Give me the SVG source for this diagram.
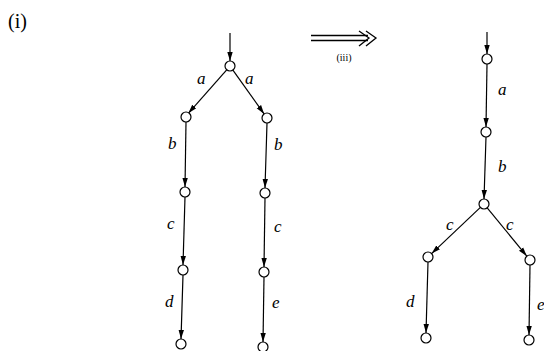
<svg xmlns="http://www.w3.org/2000/svg" width="544" height="351" viewBox="0 0 544 351">
<defs>
<marker id="ah" viewBox="0 0 10 10" refX="10" refY="5" markerWidth="9" markerHeight="9" markerUnits="userSpaceOnUse" orient="auto">
<path d="M0,2 L10,5 L0,8 Z" fill="#000"/>
</marker>
<style>
.e{stroke:#000;stroke-width:1.2;fill:none;marker-end:url(#ah)}
.n{fill:#fff;stroke:#000;stroke-width:1.2}
.l{font-family:"Liberation Serif",serif;font-style:italic;font-size:17px;fill:#000}
</style>
</defs>
<rect width="544" height="351" fill="#fff"/>
<text x="8" y="28" font-family="Liberation Serif,serif" font-size="20" fill="#000">(i)</text>
<g id="connectors">
<line class="e" x1="230" y1="33" x2="230" y2="61"/>
<line class="e" x1="226.7" y1="69.8" x2="188.3" y2="113.3"/>
<line class="e" x1="232.9" y1="70.1" x2="264.1" y2="113.9"/>
<line class="e" x1="186" y1="122" x2="185" y2="187"/>
<line class="e" x1="185" y1="197" x2="183" y2="265"/>
<line class="e" x1="183" y1="275" x2="181" y2="339"/>
<line class="e" x1="267" y1="123" x2="265" y2="188"/>
<line class="e" x1="265" y1="198" x2="264" y2="267"/>
<line class="e" x1="264" y1="277" x2="263" y2="342"/>
<line class="e" x1="487" y1="32" x2="487" y2="54"/>
<line class="e" x1="487" y1="64" x2="486" y2="127"/>
<line class="e" x1="486" y1="137" x2="484" y2="199"/>
<line class="e" x1="480.4" y1="207.4" x2="431.6" y2="253.6"/>
<line class="e" x1="487.2" y1="207.9" x2="526.8" y2="256.1"/>
<line class="e" x1="428" y1="262" x2="426" y2="333"/>
<line class="e" x1="530" y1="265" x2="529" y2="335"/>
</g>
<g id="rule-arrow" stroke="#000" stroke-width="1.3" fill="none">
<line x1="311" y1="35.5" x2="368" y2="35.5"/>
<line x1="311" y1="40.5" x2="368" y2="40.5"/>
<path d="M359,31 L369,38 L359,46"/>
<path d="M366,31 L376,38 L366,46"/>
</g>
<text x="344" y="61" text-anchor="middle" font-family="Liberation Serif,serif" font-size="10" fill="#000">(iii)</text>
<g id="L1"><circle class="n" cx="230" cy="66" r="5"/></g>
<g id="L2"><circle class="n" cx="186" cy="117" r="5"/></g>
<g id="L3"><circle class="n" cx="267" cy="118" r="5"/></g>
<g id="L4"><circle class="n" cx="185" cy="192" r="5"/></g>
<g id="L5"><circle class="n" cx="265" cy="193" r="5"/></g>
<g id="L6"><circle class="n" cx="183" cy="270" r="5"/></g>
<g id="L7"><circle class="n" cx="264" cy="272" r="5"/></g>
<g id="L8"><circle class="n" cx="181" cy="344" r="5"/></g>
<g id="L9"><circle class="n" cx="263" cy="347" r="5"/></g>
<g id="R1"><circle class="n" cx="487" cy="59" r="5"/></g>
<g id="R2"><circle class="n" cx="486" cy="132" r="5"/></g>
<g id="R3"><circle class="n" cx="484" cy="204" r="5"/></g>
<g id="R4"><circle class="n" cx="428" cy="257" r="5"/></g>
<g id="R5"><circle class="n" cx="530" cy="260" r="5"/></g>
<g id="R6"><circle class="n" cx="426" cy="338" r="5"/></g>
<g id="R7"><circle class="n" cx="529" cy="340" r="5"/></g>
<g id="labels">
<text class="l" x="197" y="84">a</text>
<text class="l" x="245" y="84">a</text>
<text class="l" x="168" y="149">b</text>
<text class="l" x="274" y="150">b</text>
<text class="l" x="167" y="229">c</text>
<text class="l" x="274" y="232">c</text>
<text class="l" x="165" y="307">d</text>
<text class="l" x="272" y="308">e</text>
<text class="l" x="498" y="95">a</text>
<text class="l" x="498" y="172">b</text>
<text class="l" x="446" y="230">c</text>
<text class="l" x="506" y="230">c</text>
<text class="l" x="406" y="307">d</text>
<text class="l" x="537" y="310">e</text>
</g>
</svg>
